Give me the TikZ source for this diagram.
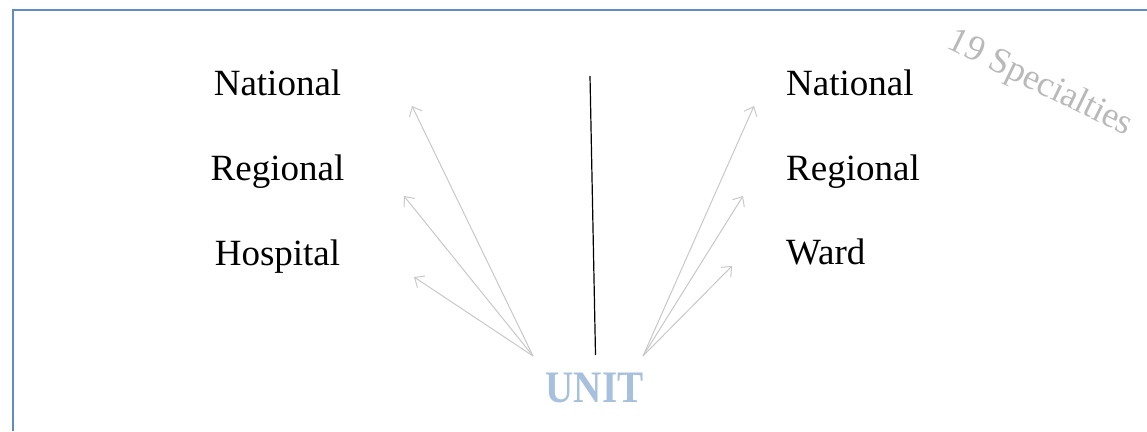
\documentclass[tikz,border=0pt]{standalone}
\usepackage{fontspec}
\setmainfont{Liberation Serif}
\usetikzlibrary{arrows.meta}
\definecolor{frameblue}{RGB}{95,140,195}
\definecolor{unitblue}{RGB}{167,192,222}
\definecolor{arrowgray}{RGB}{200,200,200}
\definecolor{notegray}{RGB}{185,185,185}
\tikzset{
  level/.style={inner sep=0pt, font=\fontsize{37}{40}\selectfont, text=black},
  leftlevel/.style={level, anchor=base},
  rightlevel/.style={level, anchor=base west},
  uparrow/.style={draw=arrowgray, line width=1pt,
    -{Straight Barb[length=8pt,width=14pt,line width=1pt]}},
  divider/.style={draw=black, line width=1.2pt},
  frameline/.style={draw=frameblue, line width=2pt},
}
\begin{document}
\begin{tikzpicture}[x=1pt,y=-1pt]
  \useasboundingbox (0,0) rectangle (1147,431);
  % open frame: only the top and left edges fall inside the page
  \draw[frameline] (12.5,431) -- (12.5,10) -- (1147,10);

  % left column of levels
  \node[leftlevel] (lnat) at (277.5,95) {National};
  \node[leftlevel] (lreg) at (277.5,180) {Regional};
  \node[leftlevel] (lhos) at (277.5,265) {Hospital};

  % right column of levels
  \node[rightlevel] (rnat) at (786,95) {National};
  \node[rightlevel] (rreg) at (786,180) {Regional};
  \node[rightlevel] (rwar) at (786,264) {Ward};

  % the unit at the bottom
  \node[inner sep=0pt, anchor=base, text=unitblue,
        font=\fontsize{45}{48}\selectfont\bfseries] (unit) at (594.5,402)
        {\scalebox{0.87}[1]{UNIT}};

  % rotated side note
  \node[inner sep=0pt, text=notegray, rotate=-26,
        font=\fontsize{36}{40}\selectfont] (spec) at (1040,84) {19 Specialties};

  % arrow origins and tips
  \coordinate (lo) at (533,356);
  \coordinate (ro) at (643,356);
  \coordinate (lt1) at (412,106);
  \coordinate (lt2) at (404,196);
  \coordinate (lt3) at (414,277);
  \coordinate (rt1) at (754,106);
  \coordinate (rt2) at (743,196);
  \coordinate (rt3) at (732,266);
  \coordinate (dtop) at (590,76);
  \coordinate (dbot) at (595.5,355);

  \draw[uparrow] (lo) -- (lt1);
  \draw[uparrow] (lo) -- (lt2);
  \draw[uparrow] (lo) -- (lt3);
  \draw[uparrow] (ro) -- (rt1);
  \draw[uparrow] (ro) -- (rt2);
  \draw[uparrow] (ro) -- (rt3);

  % central divider
  \draw[divider] (dtop) -- (dbot);
\end{tikzpicture}
\end{document}
